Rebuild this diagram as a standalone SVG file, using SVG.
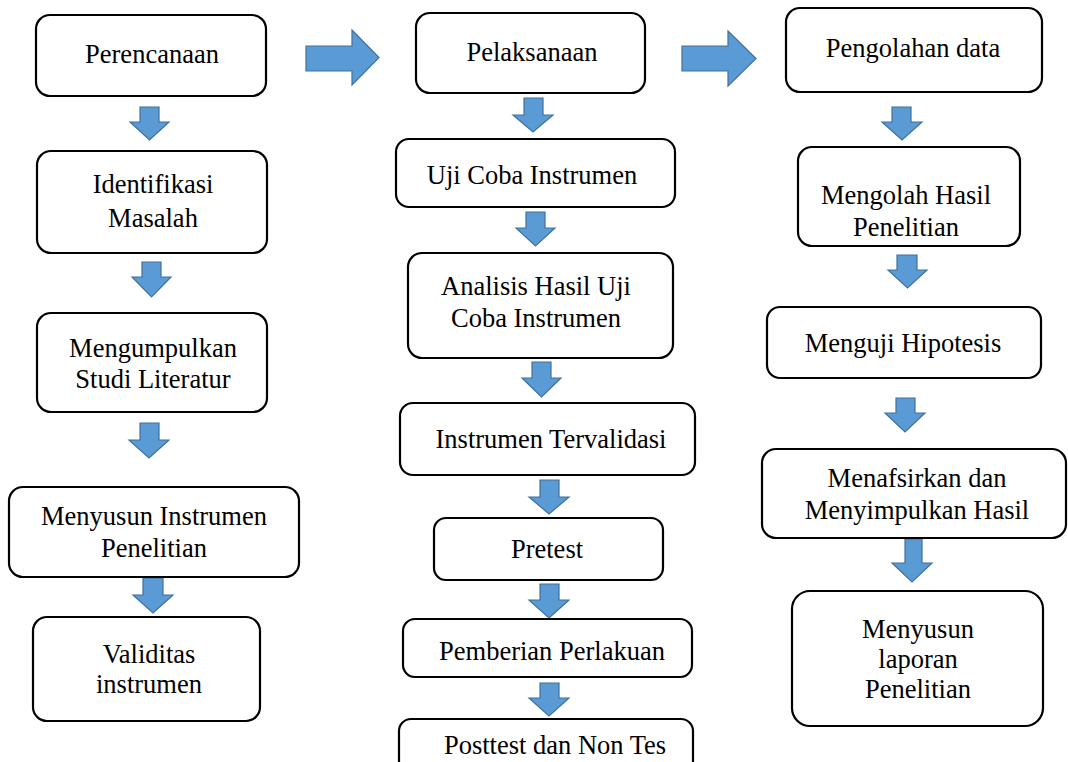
<svg xmlns="http://www.w3.org/2000/svg" width="1068" height="762" viewBox="0 0 1068 762">
<style>
.box{fill:#fff;stroke:#000;stroke-width:2.2}
.lbl{font-family:"Liberation Serif","Times New Roman",serif;font-size:26.5px;fill:#000;text-anchor:middle}
.arr{fill:#5B9BD5;stroke:#41719C;stroke-width:1.2;stroke-linejoin:miter}
</style>
<rect width="1068" height="762" fill="#fff"/>
<g id="connectors">
<path class="arr" d="M306 46H352V30L379 57.5L352 85V71H306Z"/>
<path class="arr" d="M682 46H728V31L756 58.5L728 86V71H682Z"/>
<path class="arr" d="M140 107H159V122H169L149.5 140L130 122H140Z"/>
<path class="arr" d="M142 262H161V277H171L151.5 297L132 277H142Z"/>
<path class="arr" d="M140 423H159V440H169L149 458L129 440H140Z"/>
<path class="arr" d="M143 578H163V595H173L153 613L133 595H143Z"/>
<path class="arr" d="M524 98H543V115H553L533 132L513 115H524Z"/>
<path class="arr" d="M526 212H545V228H555L535.5 246L516 228H526Z"/>
<path class="arr" d="M532 362H551V378H561L541.5 397L522 378H532Z"/>
<path class="arr" d="M540 480H559V497H569L549 514L529 497H540Z"/>
<path class="arr" d="M540 584H559V600H569L549 618L529 600H540Z"/>
<path class="arr" d="M540 683H559V698H569L549 716L529 698H540Z"/>
<path class="arr" d="M892 107H911V122H922L902 140L882 122H892Z"/>
<path class="arr" d="M897 255H917V270H927L907.5 288L888 270H897Z"/>
<path class="arr" d="M896 398H915V413H925L905 432L885 413H896Z"/>
<path class="arr" d="M905 539H922V563H932L912 582L892 563H905Z"/>
</g>
<g id="n-perencanaan"><rect class="box" x="36" y="15" width="230" height="81" rx="14"/><text class="lbl" x="152" y="63">Perencanaan</text></g>
<g id="n-identifikasi"><rect class="box" x="37" y="151" width="230" height="102" rx="14"/><text class="lbl" x="153" y="193">Identifikasi</text><text class="lbl" x="153" y="227">Masalah</text></g>
<g id="n-mengumpulkan"><rect class="box" x="37" y="313" width="230" height="99" rx="14"/><text class="lbl" x="153" y="357">Mengumpulkan</text><text class="lbl" x="153" y="388">Studi Literatur</text></g>
<g id="n-menyusun-instrumen"><rect class="box" x="9" y="487" width="290" height="90" rx="14"/><text class="lbl" x="154" y="525">Menyusun Instrumen</text><text class="lbl" x="154" y="557">Penelitian</text></g>
<g id="n-validitas"><rect class="box" x="33" y="617" width="227" height="104" rx="14"/><text class="lbl" x="149" y="663">Validitas</text><text class="lbl" x="149" y="693">instrumen</text></g>
<g id="n-pelaksanaan"><rect class="box" x="416" y="13" width="229" height="80" rx="14"/><text class="lbl" x="532" y="61">Pelaksanaan</text></g>
<g id="n-uji-coba"><rect class="box" x="396" y="139" width="279" height="68" rx="13"/><text class="lbl" x="532" y="184">Uji Coba Instrumen</text></g>
<g id="n-analisis"><rect class="box" x="408" y="253" width="265" height="105" rx="14"/><text class="lbl" x="536" y="295">Analisis Hasil Uji</text><text class="lbl" x="536" y="327">Coba Instrumen</text></g>
<g id="n-tervalidasi"><rect class="box" x="400" y="403" width="295" height="72" rx="13"/><text class="lbl" x="551" y="448">Instrumen Tervalidasi</text></g>
<g id="n-pretest"><rect class="box" x="434" y="518" width="229" height="62" rx="12"/><text class="lbl" x="547" y="558">Pretest</text></g>
<g id="n-perlakuan"><rect class="box" x="403" y="619" width="289" height="58" rx="12"/><text class="lbl" x="552" y="660">Pemberian Perlakuan</text></g>
<g id="n-posttest"><rect class="box" x="399" y="719" width="294" height="60" rx="12"/><text class="lbl" x="555" y="754">Posttest dan Non Tes</text></g>
<g id="n-pengolahan"><rect class="box" x="786" y="8" width="256" height="84" rx="14"/><text class="lbl" x="913" y="57">Pengolahan data</text></g>
<g id="n-mengolah"><rect class="box" x="798" y="147" width="222" height="99" rx="14"/><text class="lbl" x="906" y="204">Mengolah Hasil</text><text class="lbl" x="906" y="236">Penelitian</text></g>
<g id="n-menguji"><rect class="box" x="767" y="307" width="274" height="71" rx="13"/><text class="lbl" x="903" y="352">Menguji Hipotesis</text></g>
<g id="n-menafsirkan"><rect class="box" x="762" y="449" width="304" height="89" rx="14"/><text class="lbl" x="917" y="487">Menafsirkan dan</text><text class="lbl" x="917" y="519">Menyimpulkan Hasil</text></g>
<g id="n-laporan"><rect class="box" x="792" y="591" width="251" height="135" rx="18"/><text class="lbl" x="918" y="638">Menyusun</text><text class="lbl" x="918" y="668">laporan</text><text class="lbl" x="918" y="698">Penelitian</text></g>
</svg>
